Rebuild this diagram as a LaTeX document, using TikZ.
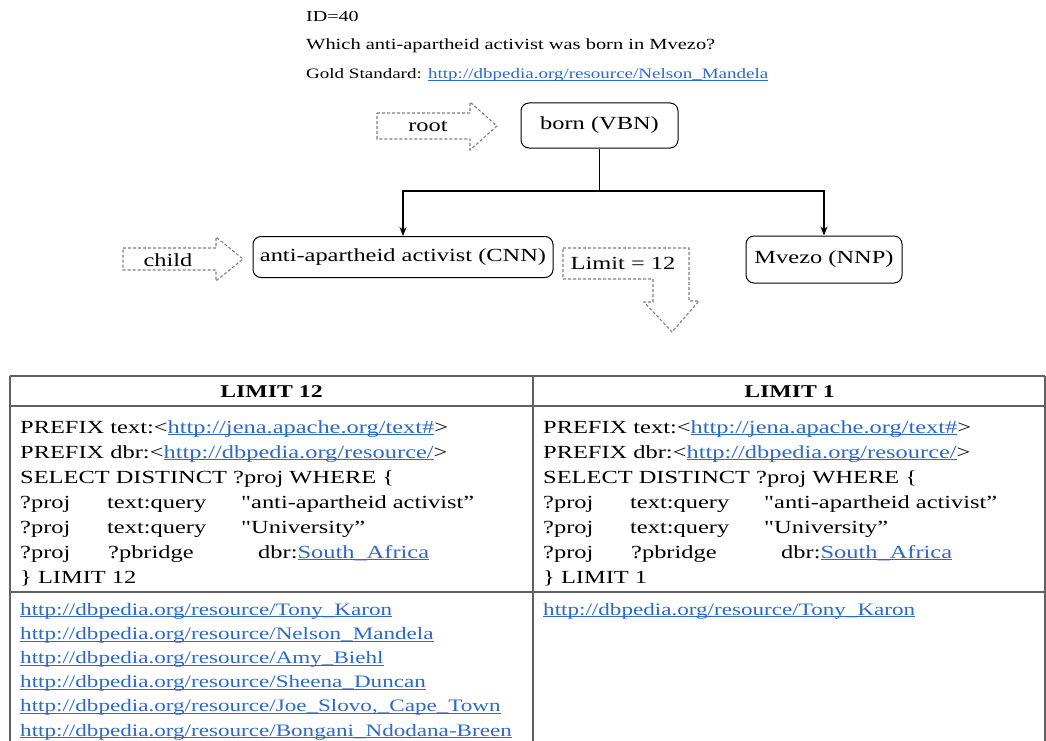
\documentclass[tikz,border=0pt]{standalone}
\usepackage{fontspec}
\setmainfont{Liberation Serif}[Ligatures=TeXOff]
\usepackage{graphicx}
\usetikzlibrary{arrows.meta}
\definecolor{linkblue}{RGB}{45,105,200}
\definecolor{gridgray}{gray}{0.38}
\definecolor{hintgray}{gray}{0.5}
% horizontally widened text
\newcommand\wide[1]{\scalebox{1.32}[1]{#1}}
% underlined hyperlink text
\newcommand\lnk[1]{{\color{linkblue}\setbox0\hbox{#1}\rlap{\rule[-2.2pt]{\wd0}{0.8pt}}\box0}}
\tikzset{
  toptext/.style={anchor=base west, inner sep=0pt, font=\fontsize{15.2}{18}\selectfont},
  cell/.style={anchor=base west, inner sep=0pt, font=\fontsize{18.5}{22}\selectfont},
  result/.style={anchor=base west, inner sep=0pt, font=\fontsize{17.5}{22}\selectfont},
  headcell/.style={anchor=base, inner sep=0pt, font=\fontsize{18}{22}\selectfont\bfseries},
  token/.style={draw, rounded corners=8pt, line width=1pt, inner sep=0pt, font=\fontsize{18.5}{22}\selectfont},
  hint/.style={draw=hintgray, dash pattern=on 3pt off 2pt, line width=1.1pt},
  hinttext/.style={inner sep=0pt, font=\fontsize{18.5}{22}\selectfont},
  branch/.style={draw, line width=1.3pt, -{Stealth[length=9pt,width=7pt]}},
  grid/.style={draw=gridgray, line width=1.6pt}
}
\begin{document}
\begin{tikzpicture}[x=1pt,y=-1pt]
\useasboundingbox (0,0) rectangle (1046,741);

% question header
\node[toptext] (qid) at (306,22) {\wide{ID=40}};
\node[toptext, font=\fontsize{15.5}{18}\selectfont] (qtext) at (306,50) {\wide{Which anti-apartheid activist was born in Mvezo?}};
\node[toptext, font=\fontsize{14.4}{18}\selectfont] (gold) at (306,79) {\wide{Gold Standard: \lnk{http://dbpedia.org/resource/Nelson\_Mandela}}};

% dependency tree
\node[token, minimum width=157pt, minimum height=45pt] (born) at (599.5,125.5) {\wide{born (VBN)}};
\node[token, minimum width=300pt, minimum height=41pt] (anti) at (403,257) {\wide{anti-apartheid activist (CNN)}};
\node[token, minimum width=156pt, minimum height=47pt] (mvezo) at (824,259.5) {\wide{Mvezo (NNP)}};
\coordinate (split) at (599.5,191);
\draw[branch] (born.south) -- (split) -| (anti.north);
\draw[branch] (split) -| (mvezo.north);

% hint arrows
\draw[hint] (377,113) -- (470,113) -- (470,102) -- (497,126) -- (470,150) -- (470,139) -- (377,139) -- cycle;
\node[hinttext] (roottag) at (428,126) {\wide{root}};
\draw[hint] (123,248) -- (216,248) -- (216,237) -- (243,259) -- (216,281) -- (216,270) -- (123,270) -- cycle;
\node[hinttext] (childtag) at (168,260) {\wide{child}};
\draw[hint] (563,248) -- (689,248) -- (689,301) -- (699,301) -- (672,332) -- (644,302) -- (653,302) -- (653,279) -- (563,279) -- cycle;
\node[hinttext] (limittag) at (623,263) {\wide{Limit = 12}};

% table grid
\draw[grid] (10,376) -- (1045,376);
\draw[grid] (10,406) -- (1045,406);
\draw[grid] (10,592) -- (1045,592);
\draw[grid] (10,376) -- (10,741);
\draw[grid] (533,376) -- (533,741);
\draw[grid] (1045,376) -- (1045,741);

% headers
\node[headcell] (hleft) at (271.5,397) {\wide{LIMIT 12}};
\node[headcell] (hright) at (789.5,397) {\wide{LIMIT 1}};

% left query
\node[cell] (la1) at (20,433) {\wide{PREFIX text:<\lnk{http://jena.apache.org/text\#}>}};
\node[cell] (la2) at (20,458) {\wide{PREFIX dbr:<\lnk{http://dbpedia.org/resource/}>}};
\node[cell] (la3) at (20,483) {\wide{SELECT DISTINCT ?proj WHERE \{}};
\node[cell] (la4a) at (20,508) {\wide{?proj}};
\node[cell] (la4b) at (107,508) {\wide{text:query}};
\node[cell] (la4c) at (241,508) {\wide{"anti-apartheid activist”}};
\node[cell] (la5a) at (20,533) {\wide{?proj}};
\node[cell] (la5b) at (107,533) {\wide{text:query}};
\node[cell] (la5c) at (241,533) {\wide{"University”}};
\node[cell] (la6a) at (20,558) {\wide{?proj}};
\node[cell] (la6b) at (108,558) {\wide{?pbridge}};
\node[cell] (la6c) at (258,558) {\wide{dbr:\lnk{South\_Africa}}};
\node[cell] (la7) at (20,583) {\wide{\} LIMIT 12}};

% right query
\node[cell] (ra1) at (543,433) {\wide{PREFIX text:<\lnk{http://jena.apache.org/text\#}>}};
\node[cell] (ra2) at (543,458) {\wide{PREFIX dbr:<\lnk{http://dbpedia.org/resource/}>}};
\node[cell] (ra3) at (543,483) {\wide{SELECT DISTINCT ?proj WHERE \{}};
\node[cell] (ra4a) at (543,508) {\wide{?proj}};
\node[cell] (ra4b) at (630,508) {\wide{text:query}};
\node[cell] (ra4c) at (764,508) {\wide{"anti-apartheid activist”}};
\node[cell] (ra5a) at (543,533) {\wide{?proj}};
\node[cell] (ra5b) at (630,533) {\wide{text:query}};
\node[cell] (ra5c) at (764,533) {\wide{"University”}};
\node[cell] (ra6a) at (543,558) {\wide{?proj}};
\node[cell] (ra6b) at (631,558) {\wide{?pbridge}};
\node[cell] (ra6c) at (781,558) {\wide{dbr:\lnk{South\_Africa}}};
\node[cell] (ra7) at (543,583) {\wide{\} LIMIT 1}};

% results
\node[result] (lr1) at (20,615) {\wide{\lnk{http://dbpedia.org/resource/Tony\_Karon}}};
\node[result] (lr2) at (20,639.2) {\wide{\lnk{http://dbpedia.org/resource/Nelson\_Mandela}}};
\node[result] (lr3) at (20,663.4) {\wide{\lnk{http://dbpedia.org/resource/Amy\_Biehl}}};
\node[result] (lr4) at (20,687.6) {\wide{\lnk{http://dbpedia.org/resource/Sheena\_Duncan}}};
\node[result] (lr5) at (20,711.8) {\wide{\lnk{http://dbpedia.org/resource/Joe\_Slovo,\_Cape\_Town}}};
\node[result] (lr6) at (20,736) {\wide{\lnk{http://dbpedia.org/resource/Bongani\_Ndodana-Breen}}};
\node[result] (rr1) at (543,615) {\wide{\lnk{http://dbpedia.org/resource/Tony\_Karon}}};
\end{tikzpicture}
\end{document}
